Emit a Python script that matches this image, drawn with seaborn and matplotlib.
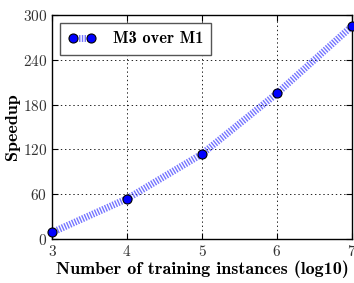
import matplotlib
matplotlib.use("Agg")
import matplotlib.pyplot as plt
import seaborn as sns
import pandas as pd
from matplotlib.lines import Line2D

x_vals = [3, 4, 5, 6, 7]
speedup = [9, 54, 114, 195, 285]
series_name = "M3 over M1"
y_ticks = [0, 60, 120, 180, 240, 300]
x_ticks = [3, 4, 5, 6, 7]

plt.rcParams['font.family'] = ['cmr10']
plt.rcParams['axes.formatter.use_mathtext'] = True
plt.rcParams['xtick.direction'] = 'in'
plt.rcParams['ytick.direction'] = 'in'
plt.rcParams['lines.scale_dashes'] = False

df = pd.DataFrame({"x": x_vals, "y": speedup})

fig = plt.figure(figsize=(3.54, 2.83), dpi=100)
ax = fig.add_axes([0.147, 0.155, 0.847, 0.792])

sns.lineplot(data=df, x="x", y="y", ax=ax, color="#2b2bff", alpha=0.65,
             linewidth=5, linestyle=(0, (1, 1)), legend=False)
ax.plot(x_vals, speedup, linestyle="none", marker="o", markersize=6.5,
        markerfacecolor="#0000ff", markeredgecolor="black", markeredgewidth=0.8,
        clip_on=False, zorder=5)

handle = Line2D([0], [0], color="#0000ff", linewidth=5, linestyle="none",
                marker="o", markersize=6.5, markerfacecolor="#0000ff",
                markeredgecolor="black", markeredgewidth=0.8)
handle2 = Line2D([0], [0], color="#2b2bff", alpha=0.65, linewidth=5, linestyle=(0, (1, 1)))
leg = ax.legend([(handle2, handle)], [series_name], loc="upper left", numpoints=2,
                fancybox=False, framealpha=1, edgecolor="#555555", handlelength=1.7,
                prop={'family': 'cmb10', 'size': 11.8}, borderpad=0.5,
                handletextpad=1.0, borderaxespad=0.5)
leg.get_frame().set_linewidth(1.0)

ax.set_xlim(3, 7)
ax.set_ylim(0, 300)
ax.set_xticks(x_ticks)
ax.set_yticks(y_ticks)
ax.tick_params(axis='both', which='both', top=True, right=True, labelsize=11,
               length=4, width=0.8, labelcolor="#333333")
ax.grid(True, color="black", linestyle=(0, (1, 2)), linewidth=0.6)
for s in ax.spines.values():
    s.set_linewidth(1.0)
    s.set_color("black")

ax.set_xlabel("Number of training instances (log10)", family='cmb10', fontsize=13, labelpad=1)
ax.set_ylabel("Speedup", family='cmb10', fontsize=13, labelpad=2)

fig.savefig("out.png", dpi=100)
